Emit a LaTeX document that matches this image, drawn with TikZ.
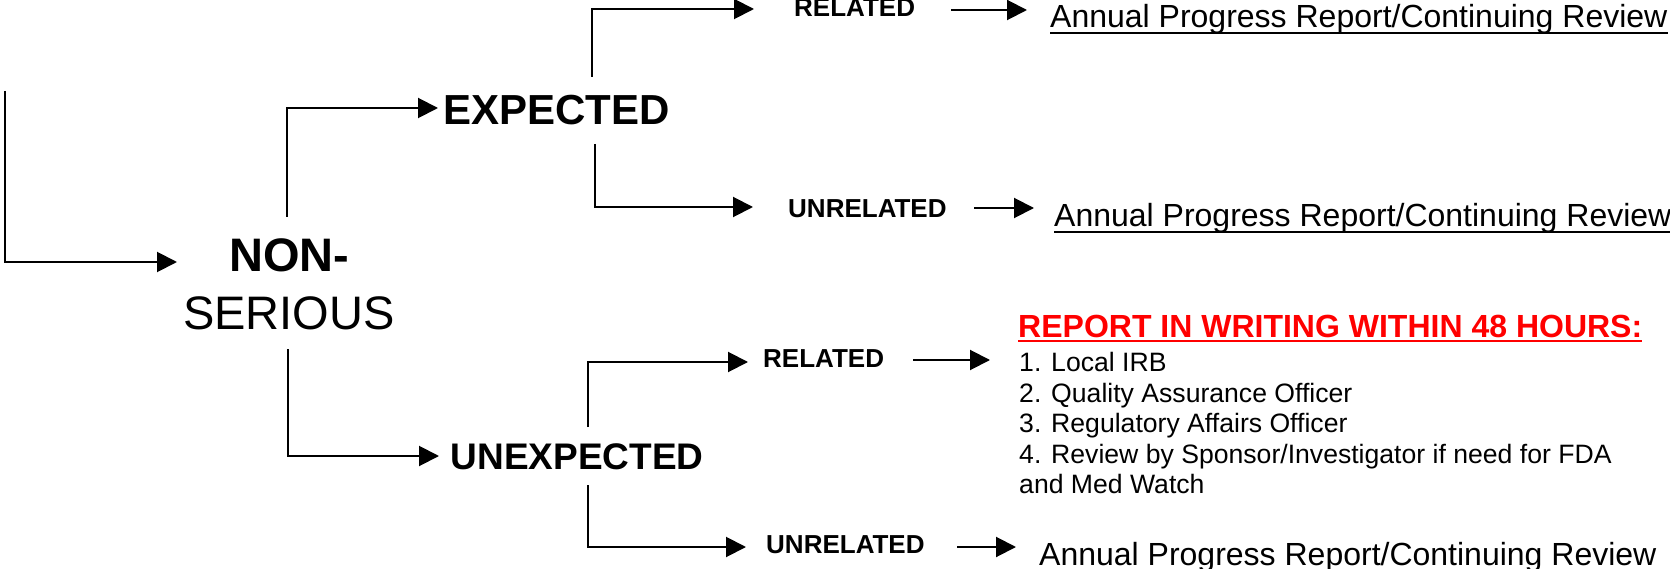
\documentclass[tikz,border=0pt]{standalone}
\usepackage{fontspec}
\setmainfont{Liberation Sans}
\usetikzlibrary{arrows.meta}
\definecolor{hred}{RGB}{255,0,0}
\begin{document}
\begin{tikzpicture}[x=1pt,y=-1pt,
  conn/.style={line width=2pt,-{Triangle[length=20pt,width=20pt]}},
  plain/.style={line width=2pt},
  lbl/.style={inner sep=0pt,anchor=base west},
  fbig/.style={font=\fontsize{47}{56}\selectfont},
  fexp/.style={font=\fontsize{42}{50}\selectfont\bfseries},
  funexp/.style={font=\fontsize{37}{44}\selectfont\bfseries},
  fsmall/.style={font=\fontsize{26}{31}\selectfont\bfseries},
  fann/.style={font=\fontsize{32}{38}\selectfont},
  fhead/.style={font=\fontsize{32}{38}\selectfont\bfseries,text=hred},
  fitem/.style={font=\fontsize{26.6}{31}\selectfont},
  uline/.style={line width=2pt}
]
\useasboundingbox (0,0) rectangle (1670,569);

% level 1
\node[inner sep=0pt,anchor=base,fbig,font=\fontsize{47}{56}\selectfont\bfseries] (non) at (289.5,272) {NON-};
\node[inner sep=0pt,anchor=base,fbig] (ser) at (289,329) {SERIOUS};

% level 2
\node[lbl,fexp] (exp) at (443,125) {EXPECTED};
\node[lbl,funexp] (unexp) at (450.5,469) {UNEXPECTED};

% level 3
\node[lbl,fsmall] (rel1) at (794,17) {RELATED};
\node[lbl,fsmall] (unrel1) at (788,218) {UNRELATED};
\node[lbl,fsmall] (rel2) at (763,367) {RELATED};
\node[lbl,fsmall] (unrel2) at (766,553) {UNRELATED};

% outcomes
\node[lbl,fann] (ann1) at (1050,28) {Annual Progress Report/Continuing Review};
\node[lbl,fann] (ann2) at (1054,227) {Annual Progress Report/Continuing Review};
\node[lbl,fann] (ann3) at (1039,565) {Annual Progress Report/Continuing Review};
\node[lbl,fhead] (head) at (1018,337) {REPORT IN WRITING WITHIN 48 HOURS:};
\node[lbl,fitem] (it1) at (1019,371) {1. Local IRB};
\node[lbl,fitem] (it2) at (1019,402) {2. Quality Assurance Officer};
\node[lbl,fitem] (it3) at (1019,432) {3. Regulatory Affairs Officer};
\node[lbl,fitem] (it4) at (1019,463) {4. Review by Sponsor/Investigator if need for FDA};
\node[lbl,fitem] (it5) at (1019,493) {and Med Watch};

% underlines
\draw[uline] ([yshift=-5pt]ann1.base west) -- ([yshift=-5pt]ann1.base east);
\draw[uline] ([yshift=-5pt]ann2.base west) -- ([yshift=-5pt]ann2.base east);
\draw[uline,hred] ([yshift=-4pt]head.base west) -- ([yshift=-4pt]head.base east);

% connector coordinates
\coordinate (in0) at (5,91);
\coordinate (tnon) at (177,262);
\coordinate (nonup) at (287,217);
\coordinate (texp) at (438,108);
\coordinate (serdn) at (288,349);
\coordinate (tunexp) at (439,456);
\coordinate (expup) at (592,77);
\coordinate (trel1) at (754,9);
\coordinate (expdn) at (595,144);
\coordinate (tunrel1) at (753,207);
\coordinate (unexpup) at (588,427);
\coordinate (trel2) at (748,362);
\coordinate (unexpdn) at (588,485);
\coordinate (tunrel2) at (746,547);
\coordinate (a1s) at (951,10);   \coordinate (a1t) at (1027,10);
\coordinate (a2s) at (974,208);  \coordinate (a2t) at (1034,208);
\coordinate (a3s) at (913,360);  \coordinate (a3t) at (990,360);
\coordinate (a4s) at (957,547);  \coordinate (a4t) at (1016,547);

\draw[conn] (in0) |- (tnon);
\draw[conn] (nonup) |- (texp);
\draw[conn] (serdn) |- (tunexp);
\draw[conn] (expup) |- (trel1);
\draw[conn] (expdn) |- (tunrel1);
\draw[conn] (unexpup) |- (trel2);
\draw[conn] (unexpdn) |- (tunrel2);
\draw[conn] (a1s) -- (a1t);
\draw[conn] (a2s) -- (a2t);
\draw[conn] (a3s) -- (a3t);
\draw[conn] (a4s) -- (a4t);
\end{tikzpicture}
\end{document}
